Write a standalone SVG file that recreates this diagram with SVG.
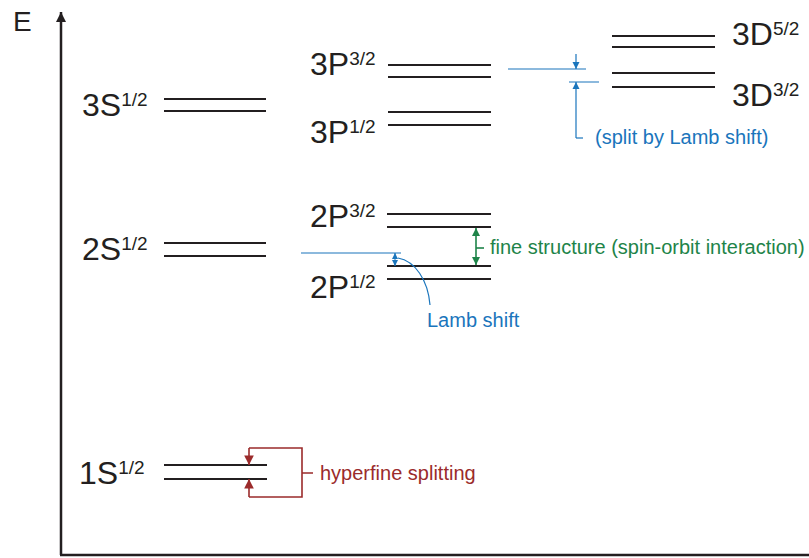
<svg xmlns="http://www.w3.org/2000/svg" width="809" height="558" viewBox="0 0 809 558">
<style>
.lv{stroke:#231f20;stroke-width:2;fill:none}
.lab{font-family:"Liberation Sans",Arial,sans-serif;font-size:32px;fill:#231f20}
.sup{font-size:19px}
.blue{stroke:#1a75bc;stroke-width:1.2;fill:none}
.green{stroke:#1e8449;stroke-width:1.6;fill:none}
.red{stroke:#9b2b2b;stroke-width:1.6;fill:none}
.ann{font-family:"Liberation Sans",Arial,sans-serif;font-size:20px}
</style>
<defs>
<marker id="ab" viewBox="0 0 10 10" refX="10" refY="5" markerWidth="6" markerHeight="6" orient="auto"><path d="M0,0L10,5L0,10z" fill="#1a75bc"/></marker>
<marker id="ab2" viewBox="0 0 10 10" refX="10" refY="5" markerWidth="5" markerHeight="5" orient="auto"><path d="M0,0L10,5L0,10z" fill="#1a75bc"/></marker>
<marker id="ag" viewBox="0 0 10 10" refX="10" refY="5" markerWidth="5" markerHeight="5" orient="auto-start-reverse"><path d="M0,0L10,5L0,10z" fill="#1e8449"/></marker>
<marker id="ar" viewBox="0 0 10 10" refX="10" refY="5" markerWidth="6" markerHeight="6" orient="auto"><path d="M0,0L10,5L0,10z" fill="#9b2b2b"/></marker>
<marker id="ak" viewBox="0 0 10 10" refX="10" refY="5" markerWidth="4" markerHeight="4" orient="auto"><path d="M0,0L10,5L0,10z" fill="#231f20"/></marker>
</defs>
<g id="axes">
<path d="M61,555V12" stroke="#231f20" stroke-width="2.5" fill="none" marker-end="url(#ak)"/>
<path d="M60,555H809" stroke="#231f20" stroke-width="2.5"/>
<text x="13" y="31" class="lab" style="font-size:28px">E</text>
</g>
<g id="level-3S">
<path class="lv" d="M164,99H266M164,111H266"/>
<text x="82" y="116" class="lab">3S<tspan class="sup" dy="-10">1/2</tspan></text>
</g>
<g id="level-2S">
<path class="lv" d="M164,243H266M164,256H266"/>
<text x="82" y="260" class="lab">2S<tspan class="sup" dy="-10">1/2</tspan></text>
</g>
<g id="level-1S">
<path class="lv" d="M164,465H267M164,479H267"/>
<text x="79" y="484" class="lab">1S<tspan class="sup" dy="-10">1/2</tspan></text>
</g>
<g id="level-3P32">
<path class="lv" d="M388,65H491M388,77H491"/>
<text x="310" y="75" class="lab">3P<tspan class="sup" dy="-10">3/2</tspan></text>
</g>
<g id="level-3P12">
<path class="lv" d="M388,112H491M388,125H491"/>
<text x="310" y="143" class="lab">3P<tspan class="sup" dy="-10">1/2</tspan></text>
</g>
<g id="level-2P32">
<path class="lv" d="M387,214H491M387,227H491"/>
<text x="310" y="227" class="lab">2P<tspan class="sup" dy="-10">3/2</tspan></text>
</g>
<g id="level-2P12">
<path class="lv" d="M387,266H491M387,279H491"/>
<text x="310" y="298" class="lab">2P<tspan class="sup" dy="-10">1/2</tspan></text>
</g>
<g id="level-3D52">
<path class="lv" d="M612,36H715M612,47H715"/>
<text x="732" y="45" class="lab">3D<tspan class="sup" dy="-10">5/2</tspan></text>
</g>
<g id="level-3D32">
<path class="lv" d="M612,73H715M612,87H715"/>
<text x="732" y="106" class="lab">3D<tspan class="sup" dy="-10">3/2</tspan></text>
</g>
<g id="connectors">
<path class="blue" d="M508,69H586M569,82H599"/>
<path class="blue" d="M576,54V69" marker-end="url(#ab)"/>
<path class="blue" d="M576,138V82" marker-end="url(#ab)"/>
<path class="blue" d="M576,138H583"/>
<text x="595" y="144" class="ann" fill="#1a75bc">(split by Lamb shift)</text>
<path class="green" d="M476,228V265" marker-start="url(#ag)" marker-end="url(#ag)"/>
<path class="green" d="M476,248H484"/>
<text x="490" y="254" class="ann" fill="#1e8449">fine structure (spin-orbit interaction)</text>
<path class="blue" d="M301,253H401"/>
<path class="blue" d="M395,259.5V253" marker-end="url(#ab2)"/>
<path class="blue" d="M395,259.5V266" marker-end="url(#ab2)"/>
<path class="blue" d="M398,258C415,261 428,280 430,305"/>
<text x="427" y="327" class="ann" fill="#1a75bc">Lamb shift</text>
<path class="red" d="M249,448H302V497H249M302,473H313"/>
<path class="red" d="M249,448V465" marker-end="url(#ar)"/>
<path class="red" d="M249,497V479" marker-end="url(#ar)"/>
<text x="320" y="480" class="ann" fill="#9b2b2b">hyperfine splitting</text>
</g>
</svg>
